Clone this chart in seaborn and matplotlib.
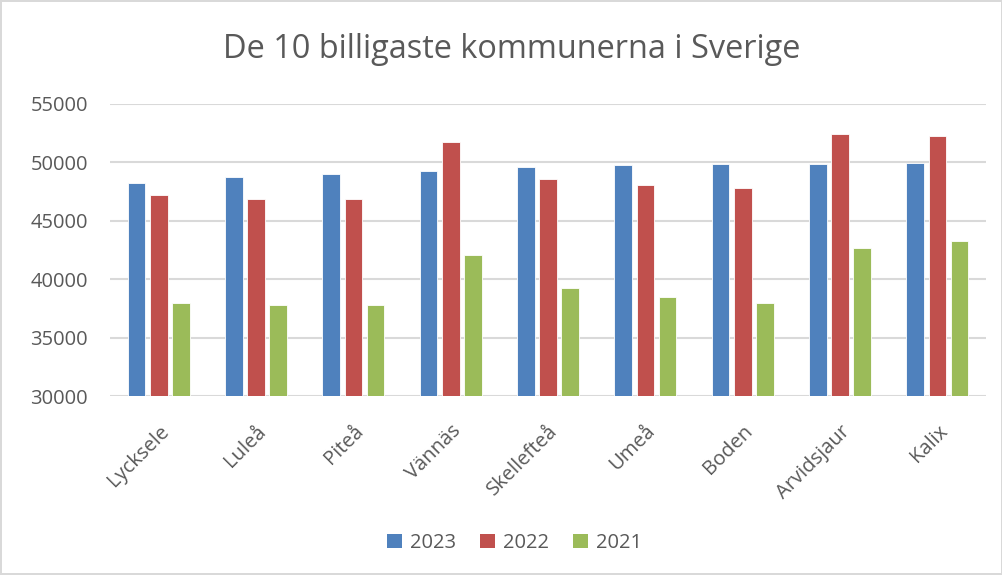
import pandas as pd
import matplotlib.pyplot as plt
import seaborn as sns
from matplotlib.patches import Patch

kommuner = ["Lycksele", "Luleå", "Piteå", "Vännäs", "Skellefteå",
            "Umeå", "Boden", "Arvidsjaur", "Kalix"]
years = ["2023", "2022", "2021"]
v2023 = [48180, 48720, 49010, 49260, 49630, 49720, 49860, 49860, 49940]
v2022 = [47220, 46880, 46820, 51760, 48550, 48070, 47810, 52420, 52270]
v2021 = [37930, 37780, 37840, 42070, 39290, 38470, 37930, 42700, 43240]
colors = ["#4f81bd", "#c0504d", "#9bbb59"]

df = pd.DataFrame({
    "kommun": kommuner * 3,
    "year": [y for y in years for _ in kommuner],
    "value": v2023 + v2022 + v2021,
})

sns.set_style("white")
plt.rcParams["font.family"] = ["Open Sans", "DejaVu Sans"]
text_col = "#595959"

fig = plt.figure(figsize=(10.03, 5.75), dpi=100, edgecolor="#d9d9d9", linewidth=1.5)
ax = fig.add_axes([0.1097, 0.3108, 0.8734, 0.5089])

sns.barplot(data=df, x="kommun", y="value", hue="year", hue_order=years,
            palette=colors, width=0.68, gap=0.2, saturation=1,
            edgecolor="white", linewidth=0.6, legend=False, ax=ax)

ax.set_ylim(30000, 55000)
ax.set_yticks(range(30000, 55001, 5000))
ax.yaxis.grid(True, color="#d9d9d9", linewidth=1.5)
ax.set_axisbelow(True)
for s in ax.spines.values():
    s.set_visible(False)
ax.set_xlabel("")
ax.set_ylabel("")
ax.tick_params(axis="both", length=0, colors=text_col, labelsize=14.5)
ax.tick_params(axis="y", pad=16)
ax.tick_params(axis="x", pad=18)
plt.setp(ax.get_xticklabels(), rotation=45, ha="right", rotation_mode="anchor")

fig.text(0.51, 1 - 50 / 575, "De 10 billigaste kommunerna i Sverige",
         ha="center", va="center", fontsize=23.4, color=text_col)

handles = [Patch(facecolor=c, edgecolor="none") for c in colors]
fig.legend(handles, years, loc="center", bbox_to_anchor=(0.513, 1 - 543 / 575),
           ncol=3, frameon=False, fontsize=14.5, labelcolor=text_col,
           handlelength=0.75, handleheight=0.75, handletextpad=0.4, columnspacing=1.2)

fig.savefig("out.png", dpi=100)
